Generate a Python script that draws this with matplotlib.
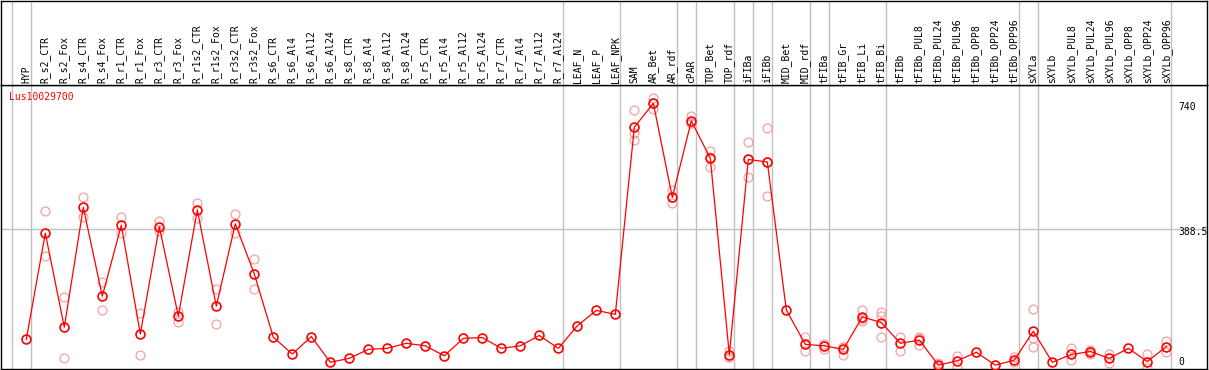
import matplotlib
matplotlib.use("Agg")
import matplotlib.pyplot as plt
import matplotlib.transforms as mtrans

# sample names (columns)
samples = ['HYP', 'R_s2_CTR', 'R_s2_Fox', 'R_s4_CTR', 'R_s4_Fox', 'R_r1_CTR', 'R_r1_Fox',
           'R_r3_CTR', 'R_r3_Fox', 'R_r1s2_CTR', 'R_r1s2_Fox', 'R_r3s2_CTR', 'R_r3s2_Fox',
           'R_s6_CTR', 'R_s6_Al4', 'R_s6_Al12', 'R_s6_Al24', 'R_s8_CTR', 'R_s8_Al4',
           'R_s8_Al12', 'R_s8_Al24', 'R_r5_CTR', 'R_r5_Al4', 'R_r5_Al12', 'R_r5_Al24',
           'R_r7_CTR', 'R_r7_Al4', 'R_r7_Al12', 'R_r7_Al24', 'LEAF_N', 'LEAF_P', 'LEAF_NPK',
           'SAM', 'AR_Bet', 'AR_rdf', 'cPAR', 'TOP_Bet', 'TOP_rdf', 'iFIBa', 'iFIBb',
           'MID_Bet', 'MID_rdf', 'tFIBa', 'tFIB_Gr', 'tFIB_Li', 'tFIB_Bi', 'tFIBb',
           'tFIBb_PUL8', 'tFIBb_PUL24', 'tFIBb_PUL96', 'tFIBb_OPP8', 'tFIBb_OPP24',
           'tFIBb_OPP96', 'sXYLa', 'sXYLb', 'sXYLb_PUL8', 'sXYLb_PUL24', 'sXYLb_PUL96',
           'sXYLb_OPP8', 'sXYLb_OPP24', 'sXYLb_OPP96']

# mean expression per sample
means = [80, 377, 114, 449, 201, 399, 95, 395, 145, 442, 173, 403, 263,
         86, 39, 88, 16, 27, 52, 55, 69, 62, 34, 83, 85, 55, 62, 91, 55,
         118, 161, 150,
         673, 740, 477, 691, 586, 37, 583, 576, 162, 66, 62, 52, 143, 127,
         69, 78, 8, 20, 44, 8, 22, 103, 16, 38, 46, 27, 55, 18, 60]

# individual replicates (only those visible apart from the mean)
reps = [[], [438, 313], [198, 27], [477, 423], [241, 161], [421, 378], [153, 36],
        [412, 382], [157, 129], [462, 418], [220, 123], [430, 377], [304, 220],
        [], [], [], [], [], [], [], [], [], [], [], [], [], [], [], [],
        [], [], [],
        [720, 658, 637], [755, 740, 725], [498, 477, 460], [704, 686, 684],
        [606, 590, 563], [48, 32, 32], [631, 584, 535], [670, 576, 481],
        [], [87, 47], [67, 52], [60, 37, 58], [162, 136, 132], [156, 145, 86],
        [87, 47], [87, 64, 83], [14, 3], [33, 2], [], [], [30, 18],
        [164, 85, 58], [], [55, 22], [48, 39, 49], [39, 15], [], [38, 0], [76, 46]]

gene = 'Lus10029700'
ymax_label = 740
ymid_label = 388.5

# group separators sit just right of these columns
sep_after = [-1, 0, 28, 31, 34, 35, 37, 38, 39, 41, 42, 45, 52, 53, 60]

W, H = 1209, 370
fig = plt.figure(figsize=(W / 100, H / 100), dpi=100)

px = 1 / W
py = 1 / H
xlim = (-1.332, 62.14)
ylim = (-2.8, 791.2)
grid_c = '#c0c0c0'
mono = 'DejaVu Sans Mono'

ax = fig.add_axes([1 * px, 1 * py, 1206 * px, 284 * py])
hd = fig.add_axes([1 * px, 285 * py, 1206 * px, 84.5 * py])

for a in (ax, hd):
    a.set_xlim(*xlim)
    a.set_xticks([])
    a.set_yticks([])
    for s in a.spines.values():
        s.set_color('black')
        s.set_linewidth(1.0)
    for k in sep_after:
        a.axvline(k + 0.24, color=grid_c, lw=1.0, zorder=0)
ax.set_ylim(*ylim)
hd.set_ylim(0, 1)

ax.axhline(ymid_label, color=grid_c, lw=1.0, zorder=0)

# header labels
for i, name in enumerate(samples):
    hd.text(i, 0.02, name, rotation=90, ha='center', va='bottom',
            fontsize=7, family=mono, color='black')

# replicates
for i, r in enumerate(reps):
    if r:
        ax.plot([i] * len(r), r, ls='none', marker='o', ms=6.4, mfc='none',
                mec='#f2a2a2', mew=0.9, zorder=2)

# mean line
ax.plot(range(len(means)), means, color='red', lw=0.9, marker='o', ms=6.4,
        mfc='none', mec='red', mew=1.2, zorder=3)

# gene name
ax.text(0.0066, 0.957, gene, transform=ax.transAxes, ha='left', va='center',
        fontsize=7, family=mono, color='red')

# right-hand value labels
tr = mtrans.blended_transform_factory(ax.transAxes, ax.transData)
k = 0.3577  # pixels per unit
ax.text(0.976, ymax_label - 3.4 / k, str(ymax_label), transform=tr,
        ha='left', va='center', fontsize=7, family=mono)
ax.text(0.976, ymid_label - 2.7 / k, str(ymid_label), transform=tr,
        ha='left', va='center', fontsize=7, family=mono, clip_on=False)
ax.text(0.976, 0 + 6.3 / k, '0', transform=tr,
        ha='left', va='center', fontsize=7, family=mono)

fig.savefig('out.png', dpi=100)
